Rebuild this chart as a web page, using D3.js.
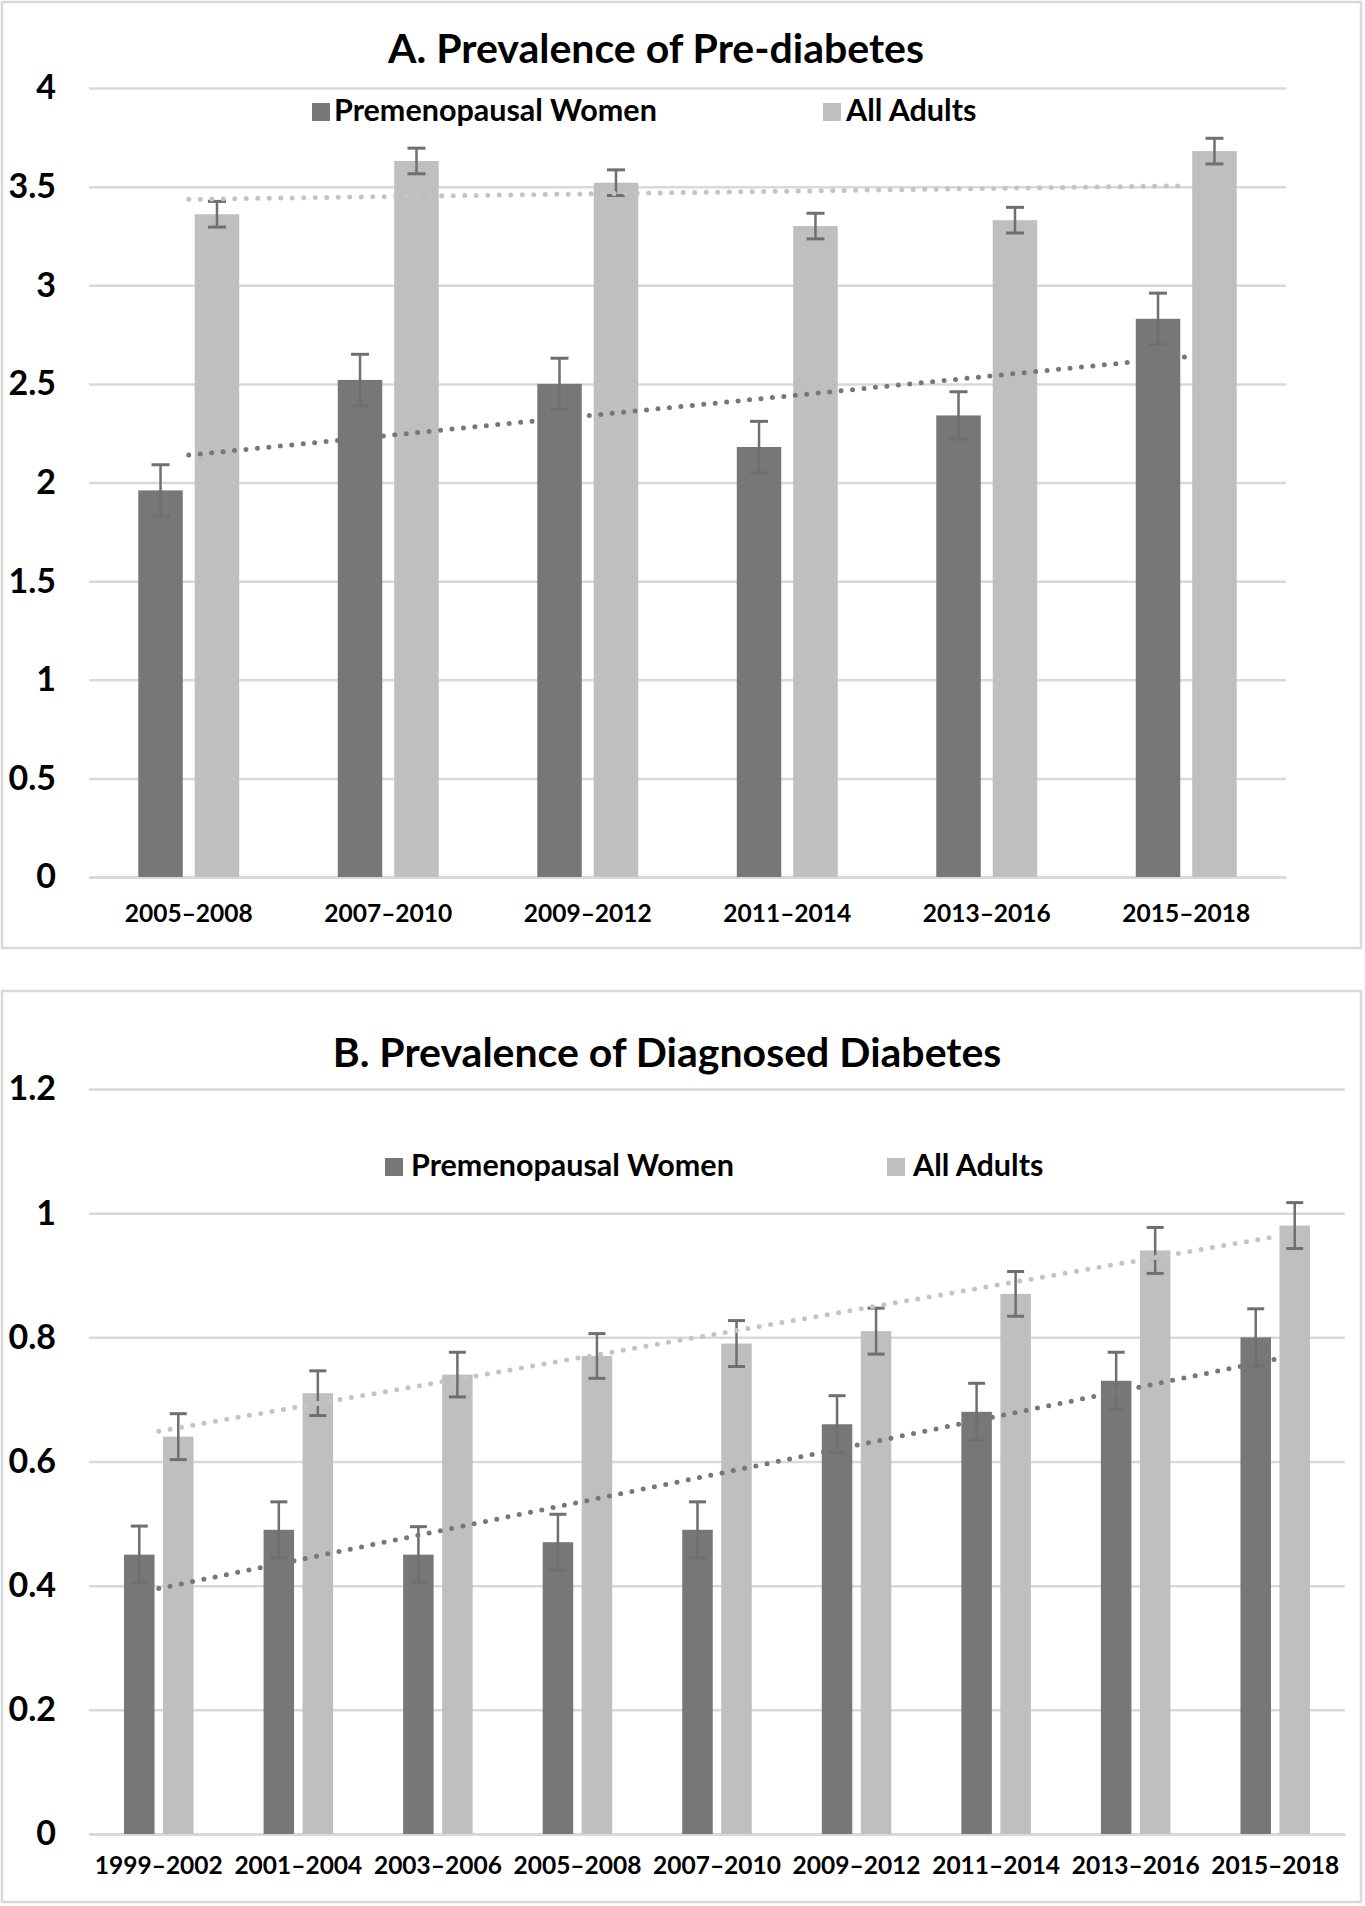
<!DOCTYPE html>
<html>
<head>
<meta charset="utf-8">
<script src="https://cdn.jsdelivr.net/npm/d3@7/dist/d3.min.js"></script>
<style>
  html, body { margin: 0; padding: 0; background: #ffffff; }
  svg { display: block; }
  text { font-family: Lato, "Open Sans", sans-serif; font-weight: 700; fill: #000; }
</style>
</head>
<body>
<svg id="chart" width="1365" height="1906"></svg>
<script>
// ---------- Data ----------
const seriesNames = ["Premenopausal Women", "All Adults"];

const categoriesA = ["2005–2008", "2007–2010", "2009–2012", "2011–2014", "2013–2016", "2015–2018"];
const premenopausalA = [1.96, 2.52, 2.50, 2.18, 2.34, 2.83];
const premenopausalErrA = [0.13, 0.13, 0.13, 0.13, 0.12, 0.13];
const allAdultsA = [3.36, 3.63, 3.52, 3.30, 3.33, 3.68];
const allAdultsErrA = [0.065, 0.065, 0.065, 0.065, 0.065, 0.065];
const yTicksA = [0, 0.5, 1, 1.5, 2, 2.5, 3, 3.5, 4];

const categoriesB = ["1999–2002", "2001–2004", "2003–2006", "2005–2008", "2007–2010", "2009–2012", "2011–2014", "2013–2016", "2015–2018"];
const premenopausalB = [0.45, 0.49, 0.45, 0.47, 0.49, 0.66, 0.68, 0.73, 0.80];
const premenopausalErrB = [0.046, 0.045, 0.045, 0.045, 0.045, 0.046, 0.046, 0.046, 0.046];
const allAdultsB = [0.64, 0.71, 0.74, 0.77, 0.79, 0.81, 0.87, 0.94, 0.98];
const allAdultsErrB = [0.037, 0.036, 0.036, 0.036, 0.037, 0.037, 0.036, 0.037, 0.037];
const yTicksB = [0, 0.2, 0.4, 0.6, 0.8, 1, 1.2];

const titleA = "A. Prevalence of Pre-diabetes";
const titleB = "B. Prevalence of Diagnosed Diabetes";

// ---------- Styles ----------
const colors = ["#777777", "#bfbfbf"];
const trendColors = ["#777777", "#c4c4c4"];
const errColor = "#6f6f6f";
const gridColor = "#d9d9d9";

const svg = d3.select("#chart");

function linearFit(vals) {
  const xs = vals.map((_, i) => i + 1);
  const mx = d3.mean(xs), my = d3.mean(vals);
  let sxy = 0, sxx = 0;
  xs.forEach((x, i) => { sxy += (x - mx) * (vals[i] - my); sxx += (x - mx) * (x - mx); });
  const b = sxy / sxx, a = my - b * mx;
  return x => a + b * x;
}

function drawPanel(cfg) {
  const g = svg.append("g");
  // frame
  g.append("rect")
    .attr("x", cfg.frame.x).attr("y", cfg.frame.y)
    .attr("width", cfg.frame.w).attr("height", cfg.frame.h)
    .attr("fill", "#fff").attr("stroke", gridColor).attr("stroke-width", 2.5);

  const x = d3.scaleBand().domain(cfg.categories)
    .range(cfg.xRange).paddingInner(cfg.padOuter).paddingOuter(cfg.padOuter / 2);
  const xs = d3.scaleBand().domain(seriesNames)
    .range([0, x.bandwidth()]).paddingInner(cfg.padInner);
  const y = d3.scaleLinear().domain(cfg.yDomain).range(cfg.yRange);

  // y axis + gridlines
  const yAxis = d3.axisLeft(y)
    .tickValues(cfg.yTicks)
    .tickSize(-(cfg.xRange[1] - cfg.xRange[0]))
    .tickPadding(cfg.xRange[0] - cfg.yLabelRight)
    .tickFormat(d3.format("~g"));
  const ya = g.append("g")
    .attr("transform", `translate(${cfg.xRange[0]},0)`)
    .call(yAxis);
  ya.select(".domain").remove();
  ya.selectAll(".tick line").attr("stroke", gridColor).attr("stroke-width", 2.5);
  ya.selectAll(".tick text").style("font-size", cfg.yFont + "px").attr("fill", "#000");

  // x axis labels
  const xAxis = d3.axisBottom(x).tickSize(0).tickPadding(cfg.xLabelPad);
  const xa = g.append("g")
    .attr("transform", `translate(0,${y(0)})`)
    .call(xAxis);
  xa.select(".domain").attr("stroke", gridColor).attr("stroke-width", 3);
  xa.selectAll(".tick text").style("font-size", cfg.xFont + "px").attr("fill", "#000");

  // bars
  const series = [
    { name: seriesNames[0], vals: cfg.s1, err: cfg.e1, color: colors[0], trend: trendColors[0] },
    { name: seriesNames[1], vals: cfg.s2, err: cfg.e2, color: colors[1], trend: trendColors[1] }
  ];
  series.forEach(s => {
    const rows = cfg.categories.map((c, i) => ({ c, v: s.vals[i], e: s.err[i] }));
    g.append("g").selectAll("rect").data(rows).join("rect")
      .attr("x", d => x(d.c) + xs(s.name))
      .attr("y", d => y(d.v))
      .attr("width", xs.bandwidth())
      .attr("height", d => y(0) - y(d.v))
      .attr("fill", s.color);
  });
  // error bars
  series.forEach(s => {
    const rows = cfg.categories.map((c, i) => ({ c, v: s.vals[i], e: s.err[i] }));
    const eg = g.append("g").attr("stroke", errColor).attr("stroke-width", 2.5).attr("fill", "none");
    rows.forEach(d => {
      const cx = x(d.c) + xs(s.name) + xs.bandwidth() / 2;
      const y1 = y(d.v + d.e), y2 = y(d.v - d.e);
      eg.append("line").attr("x1", cx).attr("x2", cx).attr("y1", y1).attr("y2", y2);
      eg.append("line").attr("x1", cx - cfg.cap / 2).attr("x2", cx + cfg.cap / 2).attr("y1", y1).attr("y2", y1).attr("stroke-width", 3);
      eg.append("line").attr("x1", cx - cfg.cap / 2).attr("x2", cx + cfg.cap / 2).attr("y1", y2).attr("y2", y2).attr("stroke-width", 3);
    });
  });
  // trendlines (linear fit), dotted
  series.forEach(s => {
    const f = linearFit(s.vals);
    const n = cfg.categories.length;
    const cx = i => x(cfg.categories[i]) + x.bandwidth() / 2;
    const pts = [[cx(0), y(f(1))], [cx(n - 1), y(f(n))]];
    g.append("path")
      .attr("d", d3.line()(pts))
      .attr("stroke", s.trend).attr("stroke-width", 5)
      .attr("stroke-linecap", "round")
      .attr("stroke-dasharray", "0 11.5")
      .attr("fill", "none");
  });

  // title
  g.append("text")
    .attr("x", cfg.titleX).attr("y", cfg.titleY)
    .attr("text-anchor", "middle")
    .style("font-size", cfg.titleFont + "px")
    .text(cfg.title);

  // legend
  cfg.legend.forEach((L, i) => {
    g.append("rect")
      .attr("x", L.sx).attr("y", cfg.legendY - 18)
      .attr("width", 18).attr("height", 18)
      .attr("fill", colors[i]);
    g.append("text")
      .attr("x", L.tx).attr("y", cfg.legendY)
      .style("font-size", cfg.legendFont + "px")
      .text(seriesNames[i]);
  });
}

drawPanel({
  frame: { x: 2, y: 2, w: 1359, h: 946 },
  categories: categoriesA, s1: premenopausalA, e1: premenopausalErrA, s2: allAdultsA, e2: allAdultsErrA,
  xRange: [89, 1286], padOuter: 0.494, padInner: 0.212,
  yDomain: [0, 4], yRange: [877, 88], yTicks: yTicksA,
  yLabelRight: 56, yFont: 34, xFont: 24.5, xLabelPad: 28,
  cap: 18,
  title: titleA, titleX: 656, titleY: 63, titleFont: 41,
  legendY: 121, legendFont: 30.5,
  legend: [{ sx: 312, tx: 334 }, { sx: 823, tx: 846 }]
});

drawPanel({
  frame: { x: 2, y: 991, w: 1359, h: 911 },
  categories: categoriesB, s1: premenopausalB, e1: premenopausalErrB, s2: allAdultsB, e2: allAdultsErrB,
  xRange: [89, 1345], padOuter: 0.502, padInner: 0.218,
  yDomain: [0, 1.2], yRange: [1834, 1089], yTicks: yTicksB,
  yLabelRight: 56, yFont: 34, xFont: 24.5, xLabelPad: 23,
  cap: 17,
  title: titleB, titleX: 667, titleY: 1067, titleFont: 41,
  legendY: 1176, legendFont: 30.5,
  legend: [{ sx: 385, tx: 411 }, { sx: 887, tx: 913 }]
});
</script>
</body>
</html>
